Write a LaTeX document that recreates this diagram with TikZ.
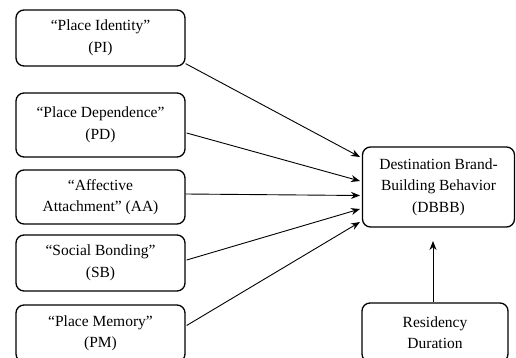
\documentclass[tikz,border=0pt]{standalone}
\usepackage{fontspec}
\setmainfont{Liberation Serif}
\usetikzlibrary{arrows.meta}
\begin{document}
\begin{tikzpicture}[x=1pt,y=-1pt,
  box/.style={draw,line width=1.3pt,rounded corners=8pt,align=center,inner sep=0pt,
    font=\fontsize{15.5}{21.5}\selectfont},
  arr/.style={line width=0.9pt,-{Stealth[length=9pt,width=7pt]}}]
\useasboundingbox (0,0) rectangle (516,358);
\node[box,minimum width=169pt,minimum height=56pt] (pi) at (100.5,38) {“Place Identity”\\(PI)};
\node[box,minimum width=169pt,minimum height=64pt] (pd) at (100.5,125) {“Place Dependence”\\(PD)};
\node[box,minimum width=169pt,minimum height=54pt] (aa) at (100.5,197) {“Affective\\Attachment” (AA)};
\node[box,minimum width=169pt,minimum height=56pt] (sb) at (100.5,263) {“Social Bonding”\\(SB)};
\node[box,minimum width=169pt,minimum height=57pt] (pm) at (100.5,333.5) {“Place Memory”\\(PM)};
\node[box,minimum width=152pt,minimum height=80pt] (db) at (438.5,187) {Destination Brand-\\Building Behavior\\(DBBB)};
\node[box,minimum width=146pt,minimum height=59pt] (rd) at (435,332.5) {Residency\\Duration};
\coordinate (t1) at (360,157);
\coordinate (t2) at (360,181);
\coordinate (t3) at (360,195.5);
\coordinate (t4) at (360,209);
\coordinate (t5) at (360,222);
\coordinate (t6) at (433,241);
\draw[arr] (pi.south east) ++(0,-3) -- (t1);
\draw[arr] (pd.east) ++(1,8) -- (t2);
\draw[arr] (aa.east) ++(0,-3) -- (t3);
\draw[arr] (sb.east) ++(1,-3) -- (t4);
\draw[arr] (pm.east) ++(1,-8) -- (t5);
\draw[arr] (rd.north -| t6) -- (t6);
\end{tikzpicture}
\end{document}
